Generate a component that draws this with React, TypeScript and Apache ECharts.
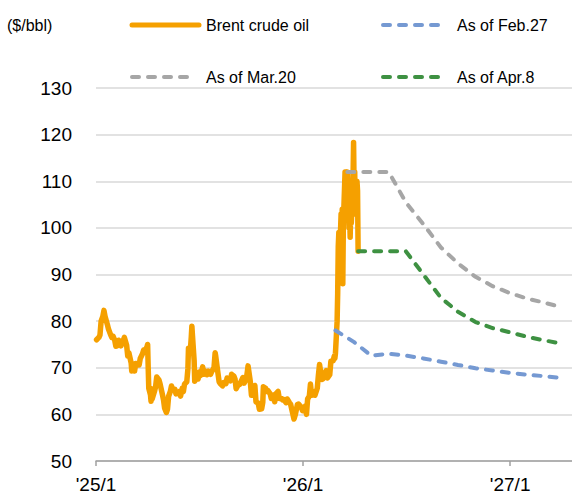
import React, { useEffect, useRef } from 'react';
import * as echarts from 'echarts';

// Brent crude oil (daily-ish closes, $/bbl)
const brentDates = [
  '2025-01-02','2025-01-06','2025-01-08','2025-01-10','2025-01-13','2025-01-15','2025-01-17','2025-01-21','2025-01-23','2025-01-27','2025-01-29','2025-01-31',
  '2025-02-03','2025-02-05','2025-02-07','2025-02-10','2025-02-12','2025-02-14','2025-02-18','2025-02-20','2025-02-24','2025-02-26','2025-02-28',
  '2025-03-04','2025-03-05','2025-03-07','2025-03-10','2025-03-12','2025-03-14','2025-03-18','2025-03-20','2025-03-24','2025-03-26','2025-03-28',
  '2025-04-01','2025-04-02','2025-04-03','2025-04-04','2025-04-07','2025-04-08','2025-04-09','2025-04-10','2025-04-14','2025-04-16','2025-04-18','2025-04-22','2025-04-24','2025-04-28','2025-04-30',
  '2025-05-02','2025-05-05','2025-05-07','2025-05-09','2025-05-12','2025-05-14','2025-05-16','2025-05-20','2025-05-22','2025-05-26','2025-05-28','2025-05-30',
  '2025-06-02','2025-06-04','2025-06-06','2025-06-10','2025-06-12','2025-06-13','2025-06-16','2025-06-18','2025-06-19','2025-06-20','2025-06-23','2025-06-24','2025-06-26','2025-06-30',
  '2025-07-02','2025-07-04','2025-07-08','2025-07-10','2025-07-14','2025-07-16','2025-07-18','2025-07-22','2025-07-24','2025-07-28','2025-07-30','2025-07-31',
  '2025-08-04','2025-08-06','2025-08-08','2025-08-12','2025-08-14','2025-08-18','2025-08-20','2025-08-22','2025-08-26','2025-08-28',
  '2025-09-01','2025-09-03','2025-09-05','2025-09-09','2025-09-11','2025-09-15','2025-09-17','2025-09-19','2025-09-23','2025-09-25','2025-09-26','2025-09-30',
  '2025-10-02','2025-10-06','2025-10-08','2025-10-10','2025-10-14','2025-10-16','2025-10-20','2025-10-22','2025-10-23','2025-10-27','2025-10-29','2025-10-31',
  '2025-11-04','2025-11-06','2025-11-10','2025-11-12','2025-11-14','2025-11-18','2025-11-20','2025-11-24','2025-11-26','2025-11-28',
  '2025-12-02','2025-12-04','2025-12-08','2025-12-10','2025-12-12','2025-12-16','2025-12-18','2025-12-22','2025-12-24','2025-12-29','2025-12-31',
  '2026-01-02','2026-01-05','2026-01-07','2026-01-09','2026-01-12','2026-01-14','2026-01-16','2026-01-20','2026-01-22','2026-01-26','2026-01-28','2026-01-30',
  '2026-02-03','2026-02-05','2026-02-09','2026-02-11','2026-02-13','2026-02-17','2026-02-19','2026-02-23','2026-02-25','2026-02-26','2026-02-27',
  '2026-03-02','2026-03-03','2026-03-04','2026-03-05','2026-03-06','2026-03-09','2026-03-10','2026-03-11','2026-03-12','2026-03-13','2026-03-16','2026-03-17','2026-03-18','2026-03-19','2026-03-20',
  '2026-03-23','2026-03-24','2026-03-25','2026-03-26','2026-03-27','2026-03-30','2026-03-31','2026-04-01','2026-04-02','2026-04-03','2026-04-06','2026-04-07','2026-04-08',
];
const brentValues = [
  76.0,76.5,77.0,80.0,81.0,82.3,81.0,79.3,78.3,77.0,76.5,76.8,
  75.9,74.6,74.7,75.9,75.2,74.7,75.8,76.5,74.8,72.5,73.2,
  71.0,69.3,70.4,69.3,70.9,70.6,70.6,72.0,73.0,73.8,73.6,
  74.5,75.0,70.1,65.6,64.2,62.8,65.5,63.3,64.9,65.9,68.0,67.4,66.5,64.3,63.1,
  61.3,60.4,61.1,63.9,64.9,66.1,65.4,65.4,64.4,64.7,64.9,63.9,
  65.6,64.9,66.5,67.0,69.8,74.2,73.2,76.7,78.9,77.0,71.5,67.1,67.7,67.6,
  69.1,68.3,70.2,68.6,69.2,68.5,69.3,68.6,69.2,70.0,73.2,72.5,
  68.8,67.0,66.6,66.1,66.8,66.6,67.8,67.7,67.2,68.6,
  68.2,67.6,65.5,66.4,66.4,67.4,67.9,66.7,67.6,69.4,70.4,67.0,
  64.1,65.5,66.2,62.7,62.4,61.1,61.2,62.6,65.9,65.6,64.9,65.1,
  64.4,63.4,64.1,62.7,64.4,64.9,63.4,63.4,63.1,63.2,
  62.5,63.3,62.5,62.2,61.1,59.0,59.8,62.1,62.2,61.5,60.8,
  60.8,61.8,60.0,63.3,63.9,66.5,64.1,64.9,64.1,65.6,68.4,70.7,
  67.5,67.6,69.0,69.4,67.8,68.5,71.4,71.5,72.5,72.0,73.0,
  80.0,86.0,96.0,99.0,92.0,103.0,99.0,104.0,88.0,101.0,112.0,104.0,108.0,110.0,112.0,
  100.0,103.0,98.0,104.0,101.0,110.0,118.3,108.0,112.0,103.0,110.0,108.0,95.0,
];

// Forecast paths
const feb27Dates = ['2026-02-27','2026-04-01','2026-05-01','2026-06-01','2026-07-01','2026-08-01','2026-09-01','2026-10-01','2026-11-01','2026-12-01','2027-01-01','2027-02-01','2027-03-01','2027-04-01'];
const feb27Values = [78.0,75.5,72.6,73.0,72.6,72.0,71.3,70.6,69.9,69.4,68.9,68.5,68.2,67.8];

const mar20Dates = ['2026-03-20','2026-04-01','2026-05-01','2026-06-01','2026-07-01','2026-08-01','2026-09-01','2026-10-01','2026-11-01','2026-12-01','2027-01-01','2027-02-01','2027-03-01','2027-04-01'];
const mar20Values = [112.0,112.0,112.0,112.0,105.5,100.8,95.8,92.4,89.5,87.5,86.0,84.8,84.0,83.0];

const apr8Dates = ['2026-04-08','2026-05-01','2026-06-01','2026-07-01','2026-08-01','2026-09-01','2026-10-01','2026-11-01','2026-12-01','2027-01-01','2027-02-01','2027-03-01','2027-04-01'];
const apr8Values = [95.0,95.0,95.0,95.0,90.0,85.0,82.0,79.8,78.5,77.6,76.6,75.9,75.2];

const xTickDates = ['2025-01-01','2026-01-01','2027-01-01'];
const xRange = ['2025-01-01', '2027-04-20'];

const seriesNames = ['Brent crude oil','As of Feb.27','As of Mar.20','As of Apr.8'];
const colors = ['#F5A000','#7599D2','#A6A6A6','#3E9142'];

const FONT = '"Liberation Sans", Arial, sans-serif';

const ts = (d: string) => {
  const [y, m, dd] = d.split('-').map(Number);
  return new Date(y, m - 1, dd).getTime();
};
const zip = (d: string[], v: number[]) => d.map((x, i) => [ts(x), v[i]]);

export default function App() {
  const ref = useRef<HTMLDivElement>(null);
  useEffect(() => {
    if (!ref.current) return;
    const chart = echarts.init(ref.current, null, { renderer: 'svg' });
    const ticks = xTickDates.map(ts);
    const dash = [7, 9];
    const legendLine = (x1: number, x2: number, y: number, color: string, dashed: boolean) => ({
      type: 'line',
      shape: { x1, y1: y, x2, y2: y },
      style: dashed
        ? { stroke: color, lineWidth: 4, lineDash: dash, lineCap: 'round' }
        : { stroke: color, lineWidth: 5, lineCap: 'round' },
    });
    const legendText = (x: number, y: number, text: string) => ({
      type: 'text',
      x, y,
      style: { text, fill: '#000', fontSize: 16, fontFamily: FONT, verticalAlign: 'middle', align: 'left' },
    });
    chart.setOption({
      animation: false,
      backgroundColor: '#fff',
      textStyle: { fontFamily: FONT },
      grid: { left: 96, right: 0, top: 88, bottom: 33, containLabel: false },
      xAxis: {
        type: 'value',
        min: ts(xRange[0]),
        max: ts(xRange[1]),
        axisLine: { show: true, lineStyle: { color: '#A0A0A0', width: 1.5 } },
        axisTick: { show: true, customValues: ticks, length: 5, lineStyle: { color: '#A0A0A0', width: 1.5 } },
        axisLabel: {
          customValues: ticks,
          fontSize: 19,
          color: '#000',
          margin: 14,
          fontFamily: FONT,
          formatter: (v: number) => {
            const d = new Date(v);
            return "'" + String(d.getFullYear()).slice(2) + '/' + (d.getMonth() + 1);
          },
        },
        splitLine: { show: false },
      },
      yAxis: {
        type: 'value',
        min: 50,
        max: 130,
        interval: 10,
        axisLine: { show: false },
        axisTick: { show: false },
        axisLabel: { fontSize: 19, color: '#000', margin: 24, fontFamily: FONT },
        splitLine: { lineStyle: { color: '#D9D9D9', width: 1.5 } },
      },
      series: [
        {
          name: seriesNames[0], type: 'line', data: zip(brentDates, brentValues), symbol: 'none',
          lineStyle: { color: colors[0], width: 5.5, join: 'round', cap: 'round' }, z: 2,
        },
        {
          name: seriesNames[1], type: 'line', data: zip(feb27Dates, feb27Values), symbol: 'none',
          lineStyle: { color: colors[1], width: 4, type: dash, cap: 'round' }, z: 3,
        },
        {
          name: seriesNames[2], type: 'line', data: zip(mar20Dates, mar20Values), symbol: 'none',
          lineStyle: { color: colors[2], width: 4, type: dash, cap: 'round' }, z: 3,
        },
        {
          name: seriesNames[3], type: 'line', data: zip(apr8Dates, apr8Values), symbol: 'none',
          lineStyle: { color: colors[3], width: 4, type: dash, cap: 'round' }, z: 3,
        },
      ],
      graphic: [
        legendText(7, 25, '($/bbl)'),
        legendLine(132, 199, 25, colors[0], false),
        legendText(206, 25, seriesNames[0]),
        legendLine(383, 438, 25, colors[1], true),
        legendText(457, 25, seriesNames[1]),
        legendLine(132, 195, 77, colors[2], true),
        legendText(206, 77, seriesNames[2]),
        legendLine(383, 438, 77, colors[3], true),
        legendText(457, 77, seriesNames[3]),
      ],
    });
    return () => chart.dispose();
  }, []);
  return <div ref={ref} style={{ position: 'fixed', left: 0, top: 0, width: 572, height: 494, background: '#fff' }} />;
}
